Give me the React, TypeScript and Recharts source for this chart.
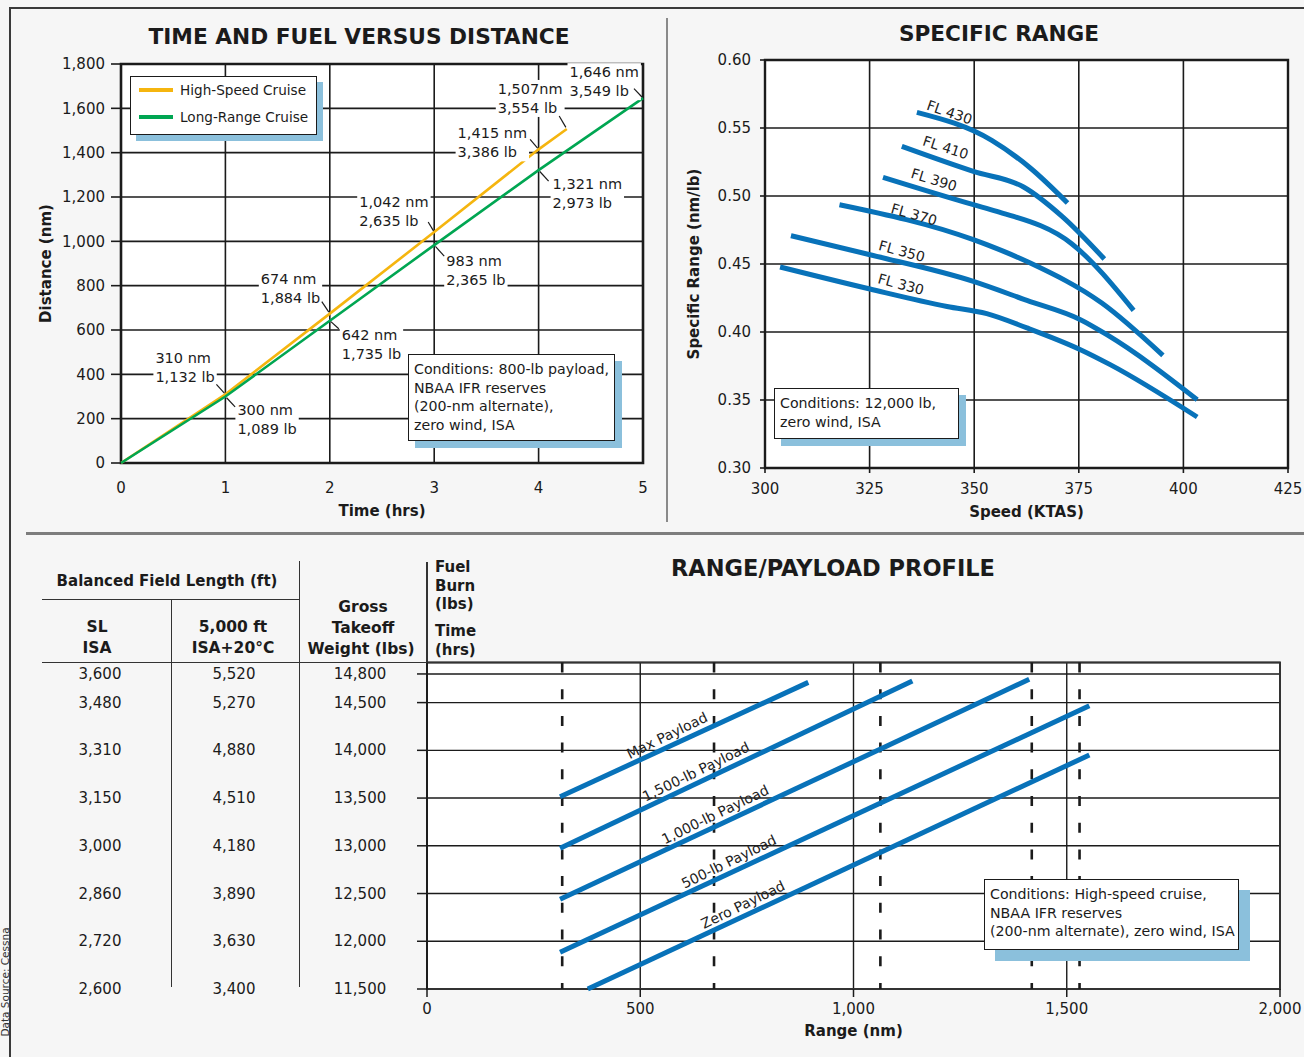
import React from "react";
import {
  LineChart,
  Line,
  XAxis,
  YAxis,
  CartesianGrid,
  ReferenceDot,
  ReferenceLine,
  ReferenceArea,
  Legend,
  Label,
} from "recharts";

const FONT = "'DejaVu Sans', 'Liberation Sans', sans-serif";
const PAGE = "#f6f6f6";
const INK = "#1b1b1b";
const SHADOW = "#8bc0dc";
const BLUE = "#0872b9";
const GOLD = "#f5b50f";
const GREEN = "#00a652";

// ---- Time and fuel versus distance ----
const timeTicks = [0, 1, 2, 3, 4, 5];
const distanceTicks = [0, 200, 400, 600, 800, 1000, 1200, 1400, 1600, 1800];
const cruiseNames = ["High-Speed Cruise", "Long-Range Cruise"];
const hsTime = [0, 1, 2, 3, 4, 4.27];
const hsDistance = [0, 310, 674, 1042, 1415, 1507];
const hsFuel = [0, 1132, 1884, 2635, 3386, 3554];
const lrTime = [0, 1, 2, 3, 4, 5];
const lrDistance = [0, 300, 642, 983, 1321, 1646];
const lrFuel = [0, 1089, 1735, 2365, 2973, 3549];

// ---- Specific range ----
const speedTicks = [300, 325, 350, 375, 400, 425];
const srTicks = [0.3, 0.35, 0.4, 0.45, 0.5, 0.55, 0.6];
const flNames = ["FL 430", "FL 410", "FL 390", "FL 370", "FL 350", "FL 330"];
const fl430Speed = [336.3, 354.2, 363.4, 372.3];
const fl430Sr = [0.5615, 0.5409, 0.5206, 0.4949];
const fl410Speed = [332.7, 349.8, 361.8, 371.0, 381.1];
const fl410Sr = [0.5365, 0.5181, 0.5066, 0.485, 0.4537];
const fl390Speed = [328.2, 349.8, 355.4, 373.3, 388.1];
const fl390Sr = [0.5137, 0.4936, 0.4887, 0.4649, 0.4159];
const fl370Speed = [317.8, 349.8, 353.0, 363.4, 380.5, 395.1];
const fl370Sr = [0.4936, 0.4679, 0.4642, 0.4507, 0.4213, 0.3828];
const fl350Speed = [306.2, 325.1, 349.8, 362.6, 375.4, 381.7, 403.3];
const fl350Sr = [0.4708, 0.4568, 0.4372, 0.4232, 0.409, 0.398, 0.3502];
const fl330Speed = [303.6, 325.1, 343.5, 353.0, 362.6, 375.4, 382.5, 403.3];
const fl330Sr = [0.4478, 0.4316, 0.4188, 0.4135, 0.403, 0.387, 0.376, 0.3375];

// ---- Range / payload profile ----
const rangeTicks = [0, 500, 1000, 1500, 2000];
const weightTicks = [14800, 14500, 14000, 13500, 13000, 12500, 12000, 11500];
const fieldLengthSL = [3600, 3480, 3310, 3150, 3000, 2860, 2720, 2600];
const fieldLength5000 = [5520, 5270, 4880, 4510, 4180, 3890, 3630, 3400];
const hourMarkRange = [317, 673, 1063, 1418, 1530];
const hourMarkFuel = [1132, 1884, 2635, 3386, 3554];
const hourMarkTime = ["1", "2", "3", "4", "4+16"];
const payloadNames = ["Max Payload", "1,500-lb Payload", "1,000-lb Payload", "500-lb Payload", "Zero Payload"];
const payloadStartRange = [312, 312, 312, 312, 377];
const payloadStartWeight = [13514, 12974, 12440, 11884, 11500];
const payloadEndRange = [894, 1138, 1412, 1553, 1553];
const payloadEndWeight = [14712, 14726, 14744, 14467, 13951];
const WEIGHT_TOP = 14920;

// callout placement in pixels from the point: leader end, first text line
const hsCallouts = [
  null,
  { lx: -9, ly: -10, tx: -70, ty: -36, gap: " " },
  { lx: -8, ly: -12, tx: -69, ty: -35, gap: " " },
  { lx: -6, ly: -10, tx: -75, ty: -30, gap: " " },
  { lx: -8.5, ly: -10, tx: -81, ty: -16, gap: " " },
  { lx: -7.6, ly: -13, tx: -69, ty: -40, gap: "" },
];
const lrCallouts = [
  null,
  { lx: 9.7, ly: 10.3, tx: 12, ty: 13, gap: " " },
  { lx: 9, ly: 8, tx: 12, ty: 14, gap: " " },
  { lx: 10, ly: 11, tx: 12, ty: 16, gap: " " },
  { lx: 10, ly: 11, tx: 14, ty: 14, gap: " " },
  { lx: -9, ly: -9.5, tx: -73.5, ty: -26, gap: " " },
];
const flTagSpeed = [343.2, 342.2, 339.5, 335, 332, 331.8];
const flTagAngle = [19, 18, 17, 16, 15, 15];
const flTagLift = [11.5, 13.5, 12.5, 9.5, 11.5, 11.5];
const payloadTagRange = [574, 642, 687, 719, 752];

const fmt = (v: number) => v.toLocaleString("en-US");

const CW: Record<string, number> = {
  "0": 0.636, "1": 0.636, "2": 0.636, "3": 0.636, "4": 0.636, "5": 0.636,
  "6": 0.636, "7": 0.636, "8": 0.636, "9": 0.636, ",": 0.318, " ": 0.318,
  n: 0.634, m: 0.974, l: 0.278, b: 0.635,
};
function textWidth(s: string, size: number) {
  let w = 0;
  for (const ch of s) w += CW[ch] ?? 0.6;
  return w * size;
}

function interp(xs: number[], ys: number[], x: number) {
  for (let i = 1; i < xs.length; i++) {
    if (x <= xs[i]) {
      const f = (x - xs[i - 1]) / (xs[i] - xs[i - 1]);
      return ys[i - 1] + f * (ys[i] - ys[i - 1]);
    }
  }
  return ys[ys.length - 1];
}

function Txt({ x, y, size = 15, bold = false, anchor = "middle", children, style }: any) {
  const left = anchor === "middle" ? x - 400 : anchor === "start" ? x : x - 800;
  return (
    <div
      style={{
        position: "absolute",
        left,
        top: y - size * 0.6,
        width: 800,
        fontSize: size,
        lineHeight: `${size * 1.2}px`,
        fontWeight: bold ? 700 : 400,
        textAlign: anchor === "middle" ? "center" : anchor === "start" ? "left" : "right",
        whiteSpace: "nowrap",
        ...style,
      }}
    >
      {children}
    </div>
  );
}

function Rule({ x, y, w, h, color = "#333" }: any) {
  return <div style={{ position: "absolute", left: x, top: y, width: w, height: h, background: color }} />;
}

function NoteBox({ x, y, w, h, shadow = 7, lines }: any) {
  return (
    <div
      style={{
        position: "absolute",
        left: x,
        top: y,
        width: w,
        height: h,
        boxSizing: "border-box",
        background: "#fff",
        border: `1.5px solid ${INK}`,
        boxShadow: `${shadow}px ${shadow}px 0 ${SHADOW}`,
        padding: "5px 0 0 5px",
        fontSize: 14.2,
        lineHeight: "18.7px",
        whiteSpace: "nowrap",
      }}
    >
      {lines.map((l: string, i: number) => (
        <div key={i}>{l}</div>
      ))}
    </div>
  );
}

function Callout({ cx, cy, c, lines }: any) {
  if (cx == null || cy == null) return <g />;
  const size = 14.5;
  const x0 = cx + c.tx;
  const y0 = cy + c.ty;
  const w = Math.max(...lines.map((l: string) => textWidth(l, size)));
  return (
    <g>
      <rect x={x0 - 2} y={y0 - 9} width={w + 4} height={37} fill="#fff" />
      <line x1={cx + c.lx * 0.12} y1={cy + c.ly * 0.12} x2={cx + c.lx} y2={cy + c.ly} stroke={INK} strokeWidth={1.2} />
      {lines.map((l: string, i: number) => (
        <text key={i} x={x0} y={y0 + i * 19} fontSize={size} fill={INK} dominantBaseline="central">
          {l}
        </text>
      ))}
    </g>
  );
}

function Tag({ cx, cy, text, angle, lift, size = 14 }: any) {
  if (cx == null || cy == null) return <g />;
  return (
    <g transform={`translate(${cx},${cy}) rotate(${angle})`}>
      <text x={0} y={-lift} textAnchor="middle" dominantBaseline="central" fontSize={size} fill="#222">
        {text}
      </text>
    </g>
  );
}

const tickStyle = { fill: INK, fontSize: 15 };

function TimeFuelChart() {
  const hs = hsTime.map((t, i) => ({ t, d: hsDistance[i] }));
  const lr = lrTime.map((t, i) => ({ t, d: lrDistance[i] }));
  const colors = [GOLD, GREEN];
  return (
    <div style={{ position: "absolute", left: 0, top: 0 }}>
      <LineChart width={660} height={530} margin={{ top: 64, right: 17, bottom: 7, left: 0 }}>
        <CartesianGrid stroke={INK} strokeWidth={1.6} fill="#fff" fillOpacity={1} />
        <XAxis
          type="number"
          dataKey="t"
          domain={[0, 5]}
          ticks={timeTicks}
          interval={0}
          axisLine={false}
          tickLine={false}
          tickSize={10}
          tickMargin={9}
          height={60}
          tick={tickStyle}
        >
          <Label
            content={({ viewBox }: any) => (
              <text x={viewBox.x + viewBox.width / 2} y={viewBox.y + 48} textAnchor="middle" dominantBaseline="central" fontSize={15} fontWeight={700} fill={INK}>
                Time (hrs)
              </text>
            )}
          />
        </XAxis>
        <YAxis
          type="number"
          domain={[0, 1800]}
          ticks={distanceTicks}
          interval={0}
          width={121}
          axisLine={false}
          tickLine={{ stroke: INK, strokeWidth: 1.6 }}
          tickSize={10}
          tickMargin={6}
          tickFormatter={fmt}
          tick={tickStyle}
        >
          <Label
            content={({ viewBox }: any) => {
              const cy = viewBox.y + viewBox.height / 2;
              return (
                <text x={46} y={cy} transform={`rotate(-90 46 ${cy})`} textAnchor="middle" dominantBaseline="central" fontSize={15} fontWeight={700} fill={INK}>
                  Distance (nm)
                </text>
              );
            }}
          />
        </YAxis>
        <ReferenceArea x1={0} x2={5} y1={0} y2={1800} fill="none" stroke={INK} strokeWidth={2.6} />
        {hsCallouts.map((c, i) =>
          c ? (
            <ReferenceDot
              key={`hs${i}`}
              x={hsTime[i]}
              y={hsDistance[i]}
              ifOverflow="visible"
              shape={(p: any) => (
                <Callout cx={p.cx} cy={p.cy} c={c} lines={[`${fmt(hsDistance[i])}${c.gap}nm`, `${fmt(hsFuel[i])} lb`]} />
              )}
            />
          ) : null
        )}
        {lrCallouts.map((c, i) =>
          c ? (
            <ReferenceDot
              key={`lr${i}`}
              x={lrTime[i]}
              y={lrDistance[i]}
              ifOverflow="visible"
              shape={(p: any) => (
                <Callout cx={p.cx} cy={p.cy} c={c} lines={[`${fmt(lrDistance[i])}${c.gap}nm`, `${fmt(lrFuel[i])} lb`]} />
              )}
            />
          ) : null
        )}
        <Line data={hs} dataKey="d" name={cruiseNames[0]} stroke={GOLD} strokeWidth={2.6} dot={false} activeDot={false} isAnimationActive={false} />
        <Line data={lr} dataKey="d" name={cruiseNames[1]} stroke={GREEN} strokeWidth={2.6} dot={false} activeDot={false} isAnimationActive={false} />
        <Legend
          layout="vertical"
          align="center"
          verticalAlign="middle"
          wrapperStyle={{ left: 130, top: 76, width: 187, height: 59 }}
          content={() => (
            <div
              style={{
                width: 187,
                height: 59,
                boxSizing: "border-box",
                background: "#fff",
                border: `1.5px solid ${INK}`,
                boxShadow: `6px 6px 0 ${SHADOW}`,
                paddingTop: 0,
              }}
            >
              {cruiseNames.map((n, i) => (
                <div key={n} style={{ display: "flex", alignItems: "center", height: 26.5, fontSize: 13.6 }}>
                  <span style={{ display: "inline-block", width: 34, height: 4, background: colors[i], margin: "0 7px 0 8px" }} />
                  {n}
                </div>
              ))}
            </div>
          )}
        />
      </LineChart>
    </div>
  );
}

function SpecificRangeChart() {
  const speeds = [fl430Speed, fl410Speed, fl390Speed, fl370Speed, fl350Speed, fl330Speed];
  const srs = [fl430Sr, fl410Sr, fl390Sr, fl370Sr, fl350Sr, fl330Sr];
  return (
    <div style={{ position: "absolute", left: 660, top: 0 }}>
      <LineChart width={644} height={530} margin={{ top: 60, right: 16, bottom: 7, left: 0 }}>
        <CartesianGrid stroke={INK} strokeWidth={1.6} fill="#fff" fillOpacity={1} />
        <XAxis
          type="number"
          dataKey="s"
          domain={[300, 425]}
          ticks={speedTicks}
          interval={0}
          axisLine={false}
          tickLine={{ stroke: INK, strokeWidth: 1.6 }}
          tickSize={5}
          tickMargin={10}
          height={55}
          tick={tickStyle}
        >
          <Label
            content={({ viewBox }: any) => (
              <text x={viewBox.x + viewBox.width / 2} y={viewBox.y + 44} textAnchor="middle" dominantBaseline="central" fontSize={15} fontWeight={700} fill={INK}>
                Speed (KTAS)
              </text>
            )}
          />
        </XAxis>
        <YAxis
          type="number"
          domain={[0.3, 0.6]}
          ticks={srTicks}
          interval={0}
          width={105}
          axisLine={false}
          tickLine={{ stroke: INK, strokeWidth: 1.6 }}
          tickSize={5}
          tickMargin={9}
          tickFormatter={(v: number) => v.toFixed(2)}
          tick={tickStyle}
        >
          <Label
            content={({ viewBox }: any) => {
              const cy = viewBox.y + viewBox.height / 2;
              return (
                <text x={34} y={cy} transform={`rotate(-90 34 ${cy})`} textAnchor="middle" dominantBaseline="central" fontSize={15} fontWeight={700} fill={INK}>
                  Specific Range (nm/lb)
                </text>
              );
            }}
          />
        </YAxis>
        <ReferenceArea x1={300} x2={425} y1={0.3} y2={0.6} fill="none" stroke={INK} strokeWidth={2.4} />
        {flNames.map((n, i) => (
          <Line
            key={n}
            data={speeds[i].map((s, j) => ({ s, r: srs[i][j] }))}
            dataKey="r"
            name={n}
            type="monotone"
            stroke={BLUE}
            strokeWidth={5}
            dot={false}
            activeDot={false}
            isAnimationActive={false}
          />
        ))}
        {flNames.map((n, i) => (
          <ReferenceDot
            key={`tag${n}`}
            x={flTagSpeed[i]}
            y={interp(speeds[i], srs[i], flTagSpeed[i])}
            ifOverflow="visible"
            shape={(p: any) => <Tag cx={p.cx} cy={p.cy} text={n} angle={flTagAngle[i]} lift={flTagLift[i]} />}
          />
        ))}
      </LineChart>
    </div>
  );
}

function TableRow({ y, payload }: any) {
  const i = weightTicks.indexOf(payload.value);
  const common = { y, fontSize: 15, fill: INK, textAnchor: "middle" as const, dominantBaseline: "central" as const };
  return (
    <g>
      <text x={100} {...common}>{fmt(fieldLengthSL[i])}</text>
      <text x={234} {...common}>{fmt(fieldLength5000[i])}</text>
      <text x={360} {...common}>{fmt(payload.value)}</text>
    </g>
  );
}

function HourMarkTick({ x, payload, index }: any) {
  const i = index ?? hourMarkRange.indexOf(payload.value);
  return (
    <g>
      <text x={x} y={64} textAnchor="middle" dominantBaseline="central" fontSize={15} fill={INK}>
        {fmt(hourMarkFuel[i])}
      </text>
      <text x={x} y={108} textAnchor="middle" dominantBaseline="central" fontSize={15} fill={INK}>
        {hourMarkTime[i]}
      </text>
    </g>
  );
}

function RangePayloadChart() {
  return (
    <div style={{ position: "absolute", left: 0, top: 540 }}>
      <LineChart width={1304} height={517} margin={{ top: 22, right: 24, bottom: 0, left: 0 }}>
        <CartesianGrid stroke={INK} strokeWidth={1.4} fill="#fff" fillOpacity={1} />
        <XAxis
          xAxisId="marks"
          orientation="top"
          type="number"
          dataKey="x"
          domain={[0, 2000]}
          ticks={hourMarkRange}
          interval={0}
          height={100.5}
          axisLine={false}
          tickLine={false}
          tick={<HourMarkTick />}
        />
        <XAxis
          type="number"
          dataKey="x"
          domain={[0, 2000]}
          ticks={rangeTicks}
          interval={0}
          height={68}
          axisLine={false}
          tickLine={{ stroke: INK, strokeWidth: 1.5 }}
          tickSize={8}
          tickMargin={6}
          tickFormatter={fmt}
          tick={tickStyle}
        >
          <Label
            content={({ viewBox }: any) => (
              <text x={viewBox.x + viewBox.width / 2} y={viewBox.y + 42} textAnchor="middle" dominantBaseline="central" fontSize={15} fontWeight={700} fill={INK}>
                Range (nm)
              </text>
            )}
          />
        </XAxis>
        <YAxis
          type="number"
          domain={[11500, WEIGHT_TOP]}
          ticks={weightTicks}
          interval={0}
          width={427}
          axisLine={{ stroke: INK, strokeWidth: 1.8 }}
          tickLine={{ stroke: INK, strokeWidth: 1.5 }}
          tickSize={10}
          tickMargin={0}
          tick={<TableRow />}
        />
        <ReferenceArea x1={0} x2={2000} y1={11500} y2={WEIGHT_TOP} fill="none" stroke="#333" strokeWidth={2} />
        {hourMarkRange.map((r) => (
          <ReferenceLine
            key={r}
            segment={[
              { x: r, y: WEIGHT_TOP },
              { x: r, y: 11500 },
            ]}
            stroke={INK}
            strokeWidth={2.6}
            strokeDasharray="10 16.7"
          />
        ))}
        {payloadNames.map((n, i) => (
          <Line
            key={n}
            data={[
              { x: payloadStartRange[i], y: payloadStartWeight[i] },
              { x: payloadEndRange[i], y: payloadEndWeight[i] },
            ]}
            dataKey="y"
            name={n}
            stroke={BLUE}
            strokeWidth={5}
            dot={false}
            activeDot={false}
            isAnimationActive={false}
          />
        ))}
        {payloadNames.map((n, i) => (
          <ReferenceDot
            key={`tag${n}`}
            x={payloadTagRange[i]}
            y={interp([payloadStartRange[i], payloadEndRange[i]], [payloadStartWeight[i], payloadEndWeight[i]], payloadTagRange[i])}
            ifOverflow="visible"
            shape={(p: any) => <Tag cx={p.cx} cy={p.cy} text={n} angle={-26} lift={11} />}
          />
        ))}
      </LineChart>
    </div>
  );
}

export default function App() {
  return (
    <div
      style={{
        position: "absolute",
        left: 0,
        top: 0,
        width: 1304,
        height: 1057,
        background: PAGE,
        overflow: "hidden",
        fontFamily: FONT,
        color: INK,
      }}
    >
      <Rule x={10} y={7} w={1294} h={2} color="#3a3a3a" />
      <Rule x={9} y={7} w={2} h={1050} color="#3a3a3a" />
      <Rule x={666} y={18} w={2} h={504} color="#8a8a8a" />
      <Rule x={26} y={532} w={1278} h={3} color="#7d7d7d" />

      <TimeFuelChart />
      <SpecificRangeChart />
      <RangePayloadChart />

      <Txt x={359} y={37} size={21.7} bold>TIME AND FUEL VERSUS DISTANCE</Txt>
      <Txt x={999} y={34} size={21.6} bold>SPECIFIC RANGE</Txt>
      <Txt x={833} y={568} size={22.5} bold>RANGE/PAYLOAD PROFILE</Txt>

      <NoteBox x={408} y={354} w={207} h={87} lines={["Conditions: 800-lb payload,", "NBAA IFR reserves", "(200-nm alternate),", "zero wind, ISA"]} />
      <NoteBox x={774} y={388} w={185} h={51} lines={["Conditions: 12,000 lb,", "zero wind, ISA"]} />
      <NoteBox x={984} y={879} w={255} h={71} shadow={11} lines={["Conditions: High-speed cruise,", "NBAA IFR reserves", "(200-nm alternate), zero wind, ISA"]} />

      {/* field length table header */}
      <Rule x={42} y={598.5} w={257} h={1.6} />
      <Rule x={42} y={661.5} w={385} h={1.8} />
      <Rule x={170.5} y={599} w={1.6} h={388} />
      <Rule x={298.5} y={561} w={1.6} h={426} />
      <Rule x={426} y={562} w={1.8} h={100} />
      <Txt x={167} y={581} size={15} bold>Balanced Field Length (ft)</Txt>
      <Txt x={97} y={627} size={15.5} bold>SL</Txt>
      <Txt x={97} y={648} size={15.5} bold>ISA</Txt>
      <Txt x={233} y={627} size={15.5} bold>5,000 ft</Txt>
      <Txt x={233} y={648} size={15.5} bold>ISA+20°C</Txt>
      <Txt x={363} y={607} size={15.5} bold>Gross</Txt>
      <Txt x={363} y={628} size={15.5} bold>Takeoff</Txt>
      <Txt x={361} y={649} size={15.5} bold>Weight (lbs)</Txt>
      <Txt x={435} y={567} size={15} bold anchor="start">Fuel</Txt>
      <Txt x={435} y={586} size={15} bold anchor="start">Burn</Txt>
      <Txt x={435} y={604} size={15} bold anchor="start">(lbs)</Txt>
      <Txt x={435} y={631} size={15} bold anchor="start">Time</Txt>
      <Txt x={435} y={650} size={15} bold anchor="start">(hrs)</Txt>

      <div
        style={{
          position: "absolute",
          left: 5 - 80,
          top: 982 - 5,
          width: 160,
          height: 10,
          lineHeight: "10px",
          fontSize: 10.5,
          color: "#333",
          textAlign: "center",
          transform: "rotate(-90deg)",
          whiteSpace: "nowrap",
        }}
      >
        Data Source: Cessna
      </div>
    </div>
  );
}
